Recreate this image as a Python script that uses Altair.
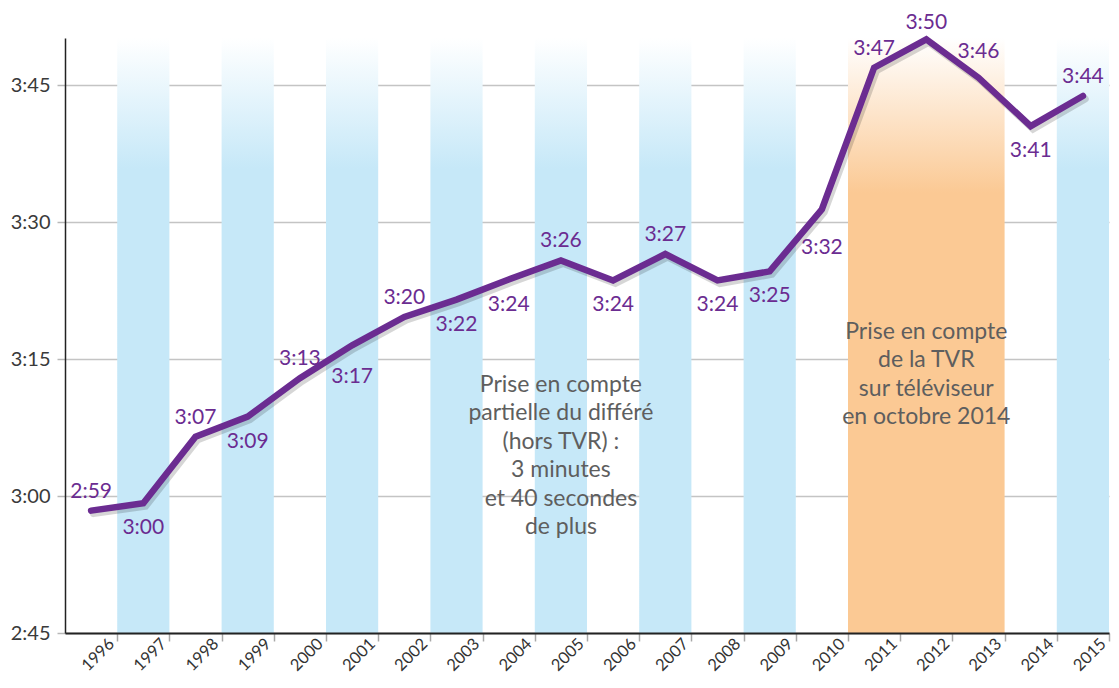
import altair as alt
import pandas as pd

# ---- data ----
years = list(range(1996, 2016))
minutes = [178.4, 179.2, 186.5, 188.7, 192.9, 196.5, 199.6, 201.5, 203.7, 205.8,
           203.6, 206.5, 203.6, 204.6, 211.4, 226.9, 230.0, 225.8, 220.5, 223.8]
labels = ["2:59", "3:00", "3:07", "3:09", "3:13", "3:17", "3:20", "3:22", "3:24", "3:26",
          "3:24", "3:27", "3:24", "3:25", "3:32", "3:47", "3:50", "3:46", "3:41", "3:44"]
sides = ["up", "down", "up", "down", "up", "down2", "up", "down", "down", "up",
         "down", "up", "down", "down", "down3", "up", "top", "up2", "down", "up"]
blue_years = [1997, 1999, 2001, 2003, 2005, 2007, 2009, 2015]
orange_years = [2011, 2013]  # first and last year of the orange period
y_ticks = [165, 180, 195, 210, 225]
annotations = [
    "Prise en compte\npartielle du différé\n(hors TVR) :\n3 minutes\net 40 secondes\nde plus",
    "Prise en compte\nde la TVR\nsur téléviseur\nen octobre 2014",
]
annotation_years = [2005, 2012]
annotation_minutes = [192.15, 197.96]

W, H = 1044, 595
Y_MIN, Y_MAX = 165, 230.15
FONT = "Lato"
PURPLE = "#6b2c91"
BLUE = "#c6e8f8"
ORANGE = "#fbc994"

df = pd.DataFrame({"year": years, "v": minutes, "label": labels, "side": sides})
df["xc"] = df["year"] - years[0] + 0.5

blue_df = pd.DataFrame({"y0": blue_years})
blue_df["x0"] = blue_df["y0"] - years[0]
blue_df["x1"] = blue_df["x0"] + 1
orange_df = pd.DataFrame({"x0": [orange_years[0] - years[0]], "x1": [orange_years[1] - years[0] + 1]})

ann_df = pd.DataFrame({"t": annotations, "yr": annotation_years, "v": annotation_minutes})
ann_df["xc"] = ann_df["yr"] - years[0] + 0.5

x_scale = alt.Scale(domain=[0, len(years)], nice=False, zero=False)
y_scale = alt.Scale(domain=[Y_MIN, Y_MAX], nice=False, zero=False)

x_axis = alt.Axis(
    values=list(range(1, len(years) + 1)),
    labelExpr=f"'' + ({years[0] - 1} + datum.value)",
    labelAngle=-45, labelAlign="right", labelBaseline="middle",
    labelFont=FONT, labelFontSize=16.5, labelColor="#333333", labelPadding=0,
    labelOffset=-6,
    tickColor="#a8a8a8", tickSize=8, tickWidth=1.5,
    domainColor="#222222", domainWidth=2, grid=False, title=None, zindex=1,
)
y_axis = alt.Axis(
    values=y_ticks,
    labelExpr="floor(datum.value/60) + ':' + (datum.value % 60 < 10 ? '0' : '') + (datum.value % 60)",
    labelFont=FONT, labelFontSize=20, labelColor="#3a3a3a", labelPadding=7,
    tickColor="#b8b8b8", tickSize=8, tickWidth=1.5,
    domainColor="#222222", domainWidth=1.5,
    grid=True, gridColor="#c4c4c4", gridWidth=1.5, title=None,
)


def X(field):
    return alt.X(field, type="quantitative", scale=x_scale, axis=x_axis)


def Y(field):
    return alt.Y(field, type="quantitative", scale=y_scale, axis=y_axis)


def grad(color, stop):
    return alt.LinearGradient(
        gradient="linear", x1=0, y1=0, x2=0, y2=1,
        stops=[alt.GradientStop(color="#ffffff", offset=0),
               alt.GradientStop(color=color, offset=stop),
               alt.GradientStop(color=color, offset=1)],
    )


blue = alt.Chart(blue_df).mark_rect(fill=grad(BLUE, 0.22)).encode(
    x=X("x0"), x2="x1:Q", y=Y("ytop"), y2="ybot:Q",
).transform_calculate(ytop=f"{Y_MAX}", ybot=f"{Y_MIN}")

orange = alt.Chart(orange_df).mark_rect(fill=grad(ORANGE, 0.26)).encode(
    x=X("x0"), x2="x1:Q", y=Y("ytop"), y2="ybot:Q",
).transform_calculate(ytop=f"{Y_MAX}", ybot=f"{Y_MIN}")

shadow = alt.Chart(df).mark_line(color="#000000", opacity=0.16, strokeWidth=7,
                                 strokeCap="round").encode(
    x=X("xs"), y=Y("vs"), order="year:O",
).transform_calculate(xs="datum.xc + 0.045", vs="datum.v - 0.33")

line = alt.Chart(df).mark_line(color=PURPLE, strokeWidth=6.5, strokeCap="round",
                               strokeJoin="miter").encode(
    x=X("xc"), y=Y("v"), order="year:O",
)

dy_map = {"up": -19, "top": -16, "up2": -26, "down": 25, "down2": 32, "down3": 39}
label_layers = []
for side, dy in dy_map.items():
    label_layers.append(
        alt.Chart(df).transform_filter(f"datum.side == '{side}'").mark_text(
            font=FONT, fontSize=21, color=PURPLE, align="center", baseline="middle", dy=dy
        ).encode(x=X("xc"), y=Y("v"), text="label:N")
    )

ann = alt.Chart(ann_df).mark_text(
    font=FONT, fontSize=23, color="#5e5e5e", align="center", baseline="middle",
    lineBreak="\n", lineHeight=28.4,
).encode(x=X("xc"), y=Y("v"), text="t:N")

chart = alt.layer(blue, orange, ann, shadow, line, *label_layers).properties(
    width=W, height=H,
    padding={"left": 57, "top": 30, "right": 2, "bottom": 42},
    autosize=alt.AutoSizeParams(type="none"),
    background="#ffffff",
).configure_view(stroke=None)

chart.save("out.html", embed_options={"renderer": "svg", "actions": False})
